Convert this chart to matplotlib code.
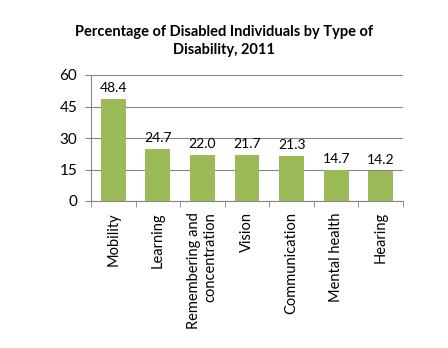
import numpy as np
from matplotlib import pyplot as plt

plt.rcParams['font.family'] = ['Lato', 'DejaVu Sans']

categories = ["Mobility", "Learning", "Remembering and\nconcentration", "Vision",
              "Communication", "Mental health", "Hearing"]
values = [48.4, 24.7, 22.0, 21.7, 21.3, 14.7, 14.2]
yticks = [0, 15, 30, 45, 60]

fig = plt.figure(figsize=(4.48, 3.48), dpi=100)
ax = fig.add_axes([91/448, 1 - 201/348, 312/448, 126/348])

x = np.arange(len(categories))
bars = ax.bar(x, values, width=0.56, color='#9BBB59', zorder=3)
for xi, v in zip(x, values):
    ax.text(xi, v + 2.5, "%.1f" % v, ha='center', va='bottom', fontsize=10)

ax.set_xlim(-0.5, len(categories) - 0.5)
ax.set_ylim(0, 60)
ax.set_yticks(yticks)
ax.tick_params(axis='y', labelsize=11, length=4, color='#868686', pad=6)
ax.set_xticks(x)
ax.set_xticklabels(categories, rotation=90, fontsize=10.5, va='top', ha='center',
                   multialignment='right')
ax.set_xticks(np.arange(len(categories) + 1) - 0.5, minor=True)
ax.tick_params(axis='x', which='major', length=0, pad=8)
ax.tick_params(axis='x', which='minor', length=4, color='#868686')
ax.grid(axis='y', color='#868686', lw=0.8, zorder=0)
for s in ['top', 'right']:
    ax.spines[s].set_visible(False)
ax.spines['left'].set_color('#868686')
ax.spines['bottom'].set_color('#868686')

fig.text(0.5, 1 - 41/348, "Percentage of Disabled Individuals by Type of\nDisability, 2011",
         ha='center', va='center', fontsize=10.5, fontweight='bold', linespacing=1.35)

fig.savefig("out.png", dpi=100)
